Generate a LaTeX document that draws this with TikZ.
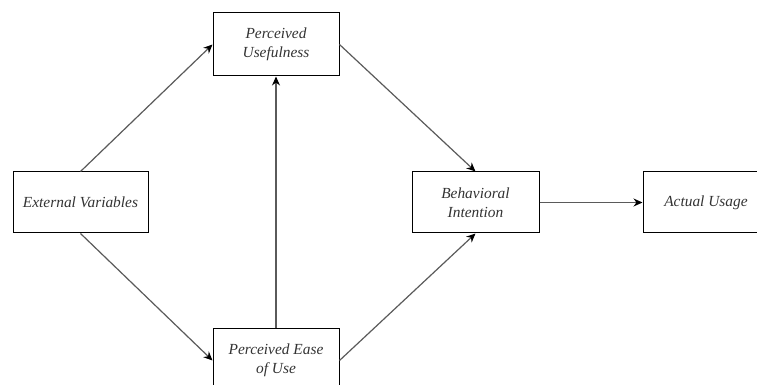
\documentclass[tikz,border=0pt]{standalone}
\usepackage{fontspec}
\setmainfont{Liberation Serif}
\usepackage{xcolor}
\usetikzlibrary{arrows.meta}
\definecolor{edge}{HTML}{5A5A5A}
\definecolor{ink}{HTML}{333333}
\tikzset{
  box/.style={draw=black, line width=0.5pt, align=center, inner sep=2pt, text=ink,
    font=\fontsize{7.7}{9.5}\selectfont\itshape},
  link/.style={draw=edge, line width=0.6pt, -{Stealth[length=4.5pt,width=4pt,color=black]}}
}

\begin{document}
\begin{tikzpicture}[x=0.5pt,y=-0.5pt]
\useasboundingbox (0,0) rectangle (757,385);
\node[box, minimum width=67.5pt, minimum height=30.5pt] (ev) at (80.5,202.5) {External Variables};
\node[box, minimum width=63pt, minimum height=31.5pt] (pu) at (276,44.5) {Perceived\\Usefulness};
\node[box, minimum width=63pt, minimum height=31.5pt] (peu) at (276,360.5) {Perceived Ease\\of Use};
\node[box, minimum width=63.5pt, minimum height=30.5pt] (bi) at (475.5,202.5) {Behavioral\\Intention};
\node[box, minimum width=63pt, minimum height=30.5pt] (au) at (706,202.5) {Actual Usage};
\draw[link] (ev.north) -- (pu.west);
\draw[link] (ev.south) -- (peu.west);
\draw[link] (peu.north) -- (pu.south);
\draw[link] (pu.east) -- (bi.north);
\draw[link] (peu.east) -- (bi.south);
\draw[link] (bi.east) -- (au.west);
\end{tikzpicture}
\end{document}
